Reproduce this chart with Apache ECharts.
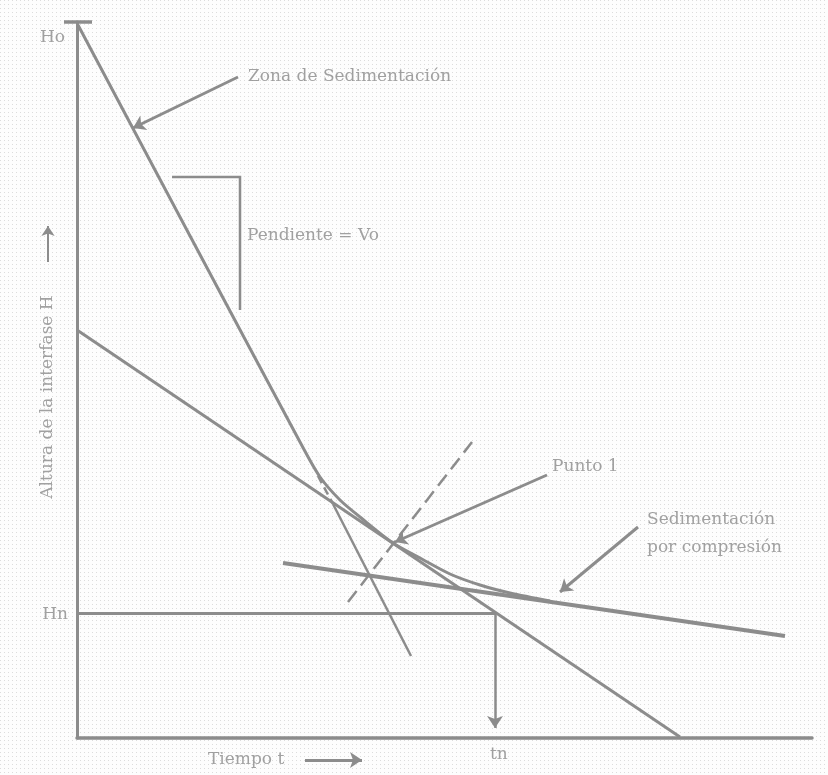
<!DOCTYPE html>
<html>
<head>
<meta charset="utf-8">
<script src="https://cdn.jsdelivr.net/npm/echarts@6/dist/echarts.min.js"></script>
<style>
  html, body { margin: 0; padding: 0; background: #fdfdfd; }
  #chart { width: 828px; height: 775px; }
</style>
</head>
<body>
<div id="chart"></div>
<script>
// curva de sedimentacion (t, H) en unidades del dibujo
const curveT = [1, 112, 223, 243, 263, 283, 316, 343, 373, 403, 433, 473];
const curveH = [713, 504, 296, 261, 238, 221, 195, 180, 164, 153, 145, 137];

// rectas auxiliares
const tangentDash = [[241, 262], [256, 234]];
const tangentSolid = [[256, 234], [334, 82]];
const tangentPoint1 = [[0, 408], [603, 1]];
const compression = [[206, 175], [708, 102]];
const bisector = [[271, 136], [395, 296]];
const hnLine = [[0, 125], [418, 125]];
const tnDrop = [[418, 125], [418, 10]];
const slopeStep = [[95, 561], [163, 561], [163, 428]];
const capLine = [[-13, 716], [15, 716]];

// flechas indicadoras
const arrowZona = [[161, 661], [56, 610]];
const arrowPunto = [[470, 263], [318, 196]];
const arrowCompr = [[561, 211], [483, 146]];
const arrowYAxis = [[-29, 476], [-29, 512]];
const arrowTiempo = [[228, -22], [285, -22]];

// textos
const labelsLeft = [
  { text: 'Zona de Sedimentación', pos: [171, 661] },
  { text: 'Pendiente = Vo', pos: [170, 502] },
  { text: 'Punto 1', pos: [475, 271] },
  { text: 'Sedimentación', pos: [570, 218] },
  { text: 'por compresión', pos: [570, 190] },
  { text: 'Tiempo t', pos: [131, -22] },
  { text: 'tn', pos: [413, -17] }
];
const labelsRight = [
  { text: 'Ho', pos: [-12, 700] },
  { text: 'Hn', pos: [-9, 123] }
];
const yTitle = { text: 'Altura de la interfase H', pos: [-29, 341] };

const gray = '#8c8c8c';
const txt = '#8a8a8a';
const font = 'DejaVu Serif';

// fondo punteado del papel
const pat = document.createElement('canvas');
pat.width = 4; pat.height = 4;
const pctx = pat.getContext('2d');
pctx.fillStyle = '#fdfdfd';
pctx.fillRect(0, 0, 4, 4);
pctx.fillStyle = '#dcdcdc';
pctx.fillRect(0, 0, 1, 1);

function seg(coords, opts) {
  return Object.assign({
    type: 'lines',
    coordinateSystem: 'cartesian2d',
    clip: false,
    silent: true,
    symbol: ['none', 'none'],
    lineStyle: { color: gray, width: 2.5, opacity: 1 },
    data: [{ coords: coords }]
  }, opts || {});
}

function arrow(coords) {
  return seg(coords, { symbol: ['none', 'arrow'], symbolSize: [7, 12], lineStyle: { color: gray, width: 3, opacity: 1 } });
}

const chart = echarts.init(document.getElementById('chart'));
chart.setOption({
  backgroundColor: { image: pat, repeat: 'repeat' },
  animation: false,
  grid: { left: 77, top: 22, width: 735, height: 716 },
  xAxis: {
    type: 'value', min: 0, max: 735,
    axisLine: { lineStyle: { color: gray, width: 3.5 } },
    axisTick: { show: false }, axisLabel: { show: false }, splitLine: { show: false }
  },
  yAxis: {
    type: 'value', min: 0, max: 716,
    axisLine: { lineStyle: { color: gray, width: 3 } },
    axisTick: { show: false }, axisLabel: { show: false }, splitLine: { show: false }
  },
  series: [
    {
      type: 'line',
      data: curveT.map((t, i) => [t, curveH[i]]),
      smooth: 0.3,
      showSymbol: false,
      lineStyle: { color: gray, width: 3 }
    },
    seg(tangentDash, { lineStyle: { color: gray, width: 2.5, type: [8, 5], opacity: 1 } }),
    seg(tangentSolid),
    seg(tangentPoint1, { lineStyle: { color: gray, width: 3, opacity: 1 } }),
    seg(compression, { lineStyle: { color: gray, width: 4, opacity: 1 } }),
    seg(bisector, { lineStyle: { color: gray, width: 2.5, type: [14, 7], opacity: 1 } }),
    seg(hnLine, { lineStyle: { color: gray, width: 3, opacity: 1 } }),
    seg(tnDrop, { symbol: ['none', 'arrow'], symbolSize: [7, 12] }),
    seg(slopeStep, { polyline: true }),
    seg(capLine, { lineStyle: { color: gray, width: 3.5, opacity: 1 } }),
    arrow(arrowZona),
    arrow(arrowPunto),
    arrow(arrowCompr),
    seg(arrowYAxis, { symbol: ['none', 'arrow'], symbolSize: [6, 10], lineStyle: { color: gray, width: 2, opacity: 1 } }),
    arrow(arrowTiempo),
    {
      type: 'scatter', clip: false, silent: true, symbolSize: 0,
      data: labelsLeft.map(d => ({ value: d.pos, name: d.text })),
      label: { show: true, position: 'right', distance: 0, formatter: p => p.name,
        color: txt, fontFamily: font, fontSize: 17 }
    },
    {
      type: 'scatter', clip: false, silent: true, symbolSize: 0,
      data: labelsRight.map(d => ({ value: d.pos, name: d.text })),
      label: { show: true, position: 'left', distance: 0, formatter: p => p.name,
        color: txt, fontFamily: font, fontSize: 17 }
    },
    {
      type: 'scatter', clip: false, silent: true, symbolSize: 0,
      data: [{ value: yTitle.pos, name: yTitle.text }],
      label: { show: true, position: 'inside', rotate: 90, formatter: p => p.name,
        color: txt, fontFamily: font, fontSize: 17 }
    }
  ]
});
</script>
</body>
</html>
